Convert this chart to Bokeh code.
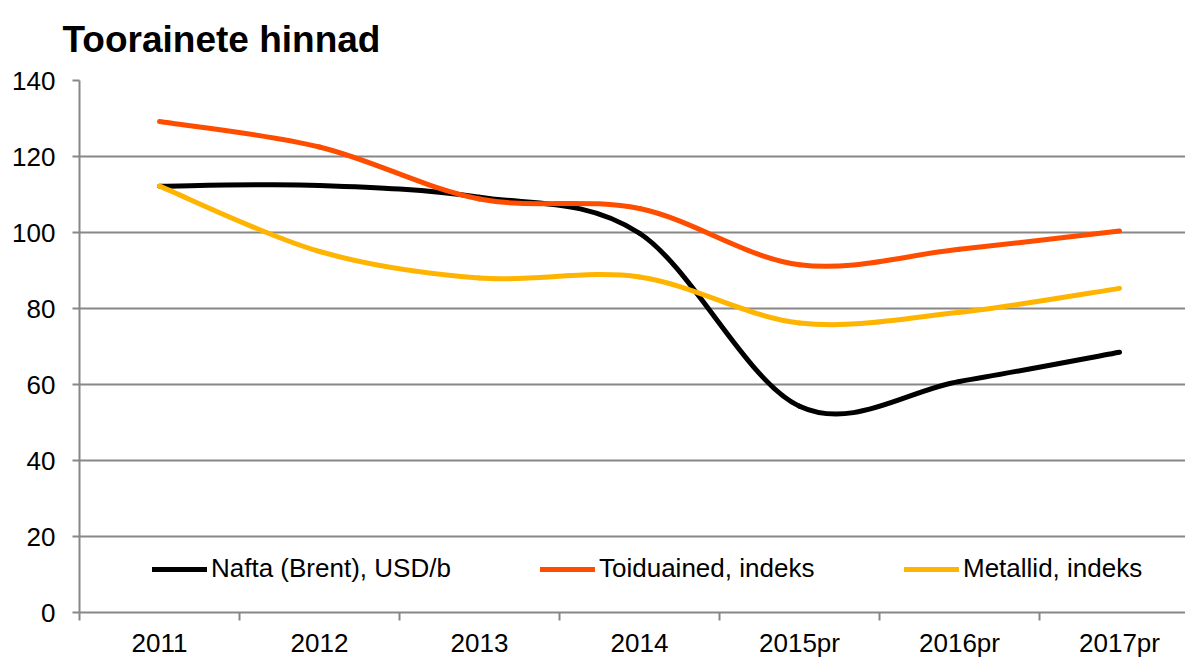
from bokeh.plotting import figure
from bokeh.models import (ColumnDataSource, FixedTicker, Range1d, Legend, LegendItem)
from bokeh.embed import file_html
from bokeh.resources import INLINE

# ---- data ----
years = ["2011", "2012", "2013", "2014", "2015pr", "2016pr", "2017pr"]
nafta = [112.2, 112.4, 109.3, 99.8, 54.3, 60.8, 68.5]
toiduained = [129.2, 122.5, 108.8, 106.3, 91.5, 95.6, 100.4]
metallid = [112.2, 95.0, 88.0, 88.3, 76.2, 79.0, 85.3]
y_ticks = [0, 20, 40, 60, 80, 100, 120, 140]
title_text = "Toorainete hinnad"

series = [
    ("Nafta (Brent), USD/b", nafta, "#000000"),
    ("Toiduained, indeks", toiduained, "#FF4D00"),
    ("Metallid, indeks", metallid, "#FFB400"),
]

GRAY = "#878787"
FONT = "Liberation Sans"

p = figure(width=1185, height=660, output_backend="svg", toolbar_location=None,
           x_range=Range1d(-0.5, 6.4125), y_range=Range1d(0, 140),
           min_border_left=79, min_border_right=0, min_border_top=80,
           min_border_bottom=47)
p.outline_line_color = None
p.background_fill_color = "white"
p.border_fill_color = "white"

p.title.text = title_text
p.title.text_font = FONT
p.title.text_font_size = "37px"
p.title.text_font_style = "bold"
p.title.text_color = "#000000"
p.title.align = "left"
p.title.vertical_align = "top"
p.title.offset = -17
p.title.standoff = 37


def bezier_source(vals):
    n = len(vals)
    xs = list(range(n))
    x0, y0, x1, y1, cx0, cy0, cx1, cy1 = ([] for _ in range(8))
    for i in range(n - 1):
        xm1, ym1 = (xs[i - 1], vals[i - 1]) if i > 0 else (xs[i], vals[i])
        xp2, yp2 = (xs[i + 2], vals[i + 2]) if i + 2 < n else (xs[i + 1], vals[i + 1])
        x0.append(xs[i]); y0.append(vals[i])
        x1.append(xs[i + 1]); y1.append(vals[i + 1])
        cx0.append(xs[i] + (xs[i + 1] - xm1) / 6.0)
        cy0.append(vals[i] + (vals[i + 1] - ym1) / 6.0)
        cx1.append(xs[i + 1] - (xp2 - xs[i]) / 6.0)
        cy1.append(vals[i + 1] - (yp2 - vals[i]) / 6.0)
    return ColumnDataSource(dict(x0=x0, y0=y0, x1=x1, y1=y1,
                                 cx0=cx0, cy0=cy0, cx1=cx1, cy1=cy1))


renderers = []
for name, vals, color in series:
    r = p.bezier(x0="x0", y0="y0", x1="x1", y1="y1", cx0="cx0", cy0="cy0",
                 cx1="cx1", cy1="cy1", source=bezier_source(vals),
                 line_color=color, line_width=5, line_cap="round")
    renderers.append((name, r))

# axes
xa = p.xaxis[0]
xa.ticker = FixedTicker(ticks=list(range(len(years))),
                        minor_ticks=[i - 0.5 for i in range(len(years) + 1)])
xa.major_label_overrides = {i: y for i, y in enumerate(years)}
xa.major_tick_line_color = None
xa.major_tick_out = 8
xa.major_tick_in = 0
xa.minor_tick_line_color = GRAY
xa.minor_tick_line_width = 2
xa.minor_tick_out = 8
xa.minor_tick_in = 0
xa.axis_line_color = GRAY
xa.axis_line_width = 2
xa.major_label_text_font = FONT
xa.major_label_text_font_size = "26px"
xa.major_label_text_color = "#000000"
xa.major_label_standoff = 7

ya = p.yaxis[0]
ya.ticker = FixedTicker(ticks=y_ticks)
ya.minor_tick_line_color = None
ya.major_tick_line_color = GRAY
ya.major_tick_line_width = 2
ya.major_tick_out = 7
ya.major_tick_in = 0
ya.axis_line_color = GRAY
ya.axis_line_width = 2
ya.major_label_text_font = FONT
ya.major_label_text_font_size = "26px"
ya.major_label_text_color = "#000000"
ya.major_label_standoff = 17

p.xgrid.grid_line_color = None
p.ygrid.ticker = FixedTicker(ticks=y_ticks)
p.ygrid.grid_line_color = GRAY
p.ygrid.grid_line_width = 2

# legends (three single-item legends placed like the original)
leg_x = [73, 461, 825]
for (name, r), lx in zip(renderers, leg_x):
    lg = Legend(items=[LegendItem(label=name, renderers=[r])],
                location=(lx, 28), orientation="horizontal",
                padding=0, margin=0, spacing=0,
                glyph_width=55, glyph_height=26, label_height=26,
                label_standoff=4, label_text_font=FONT,
                label_text_font_size="26px", label_text_color="#000000",
                border_line_alpha=0, background_fill_alpha=0)
    p.add_layout(lg, "center")

open("out.html", "w").write(file_html(p, INLINE))
